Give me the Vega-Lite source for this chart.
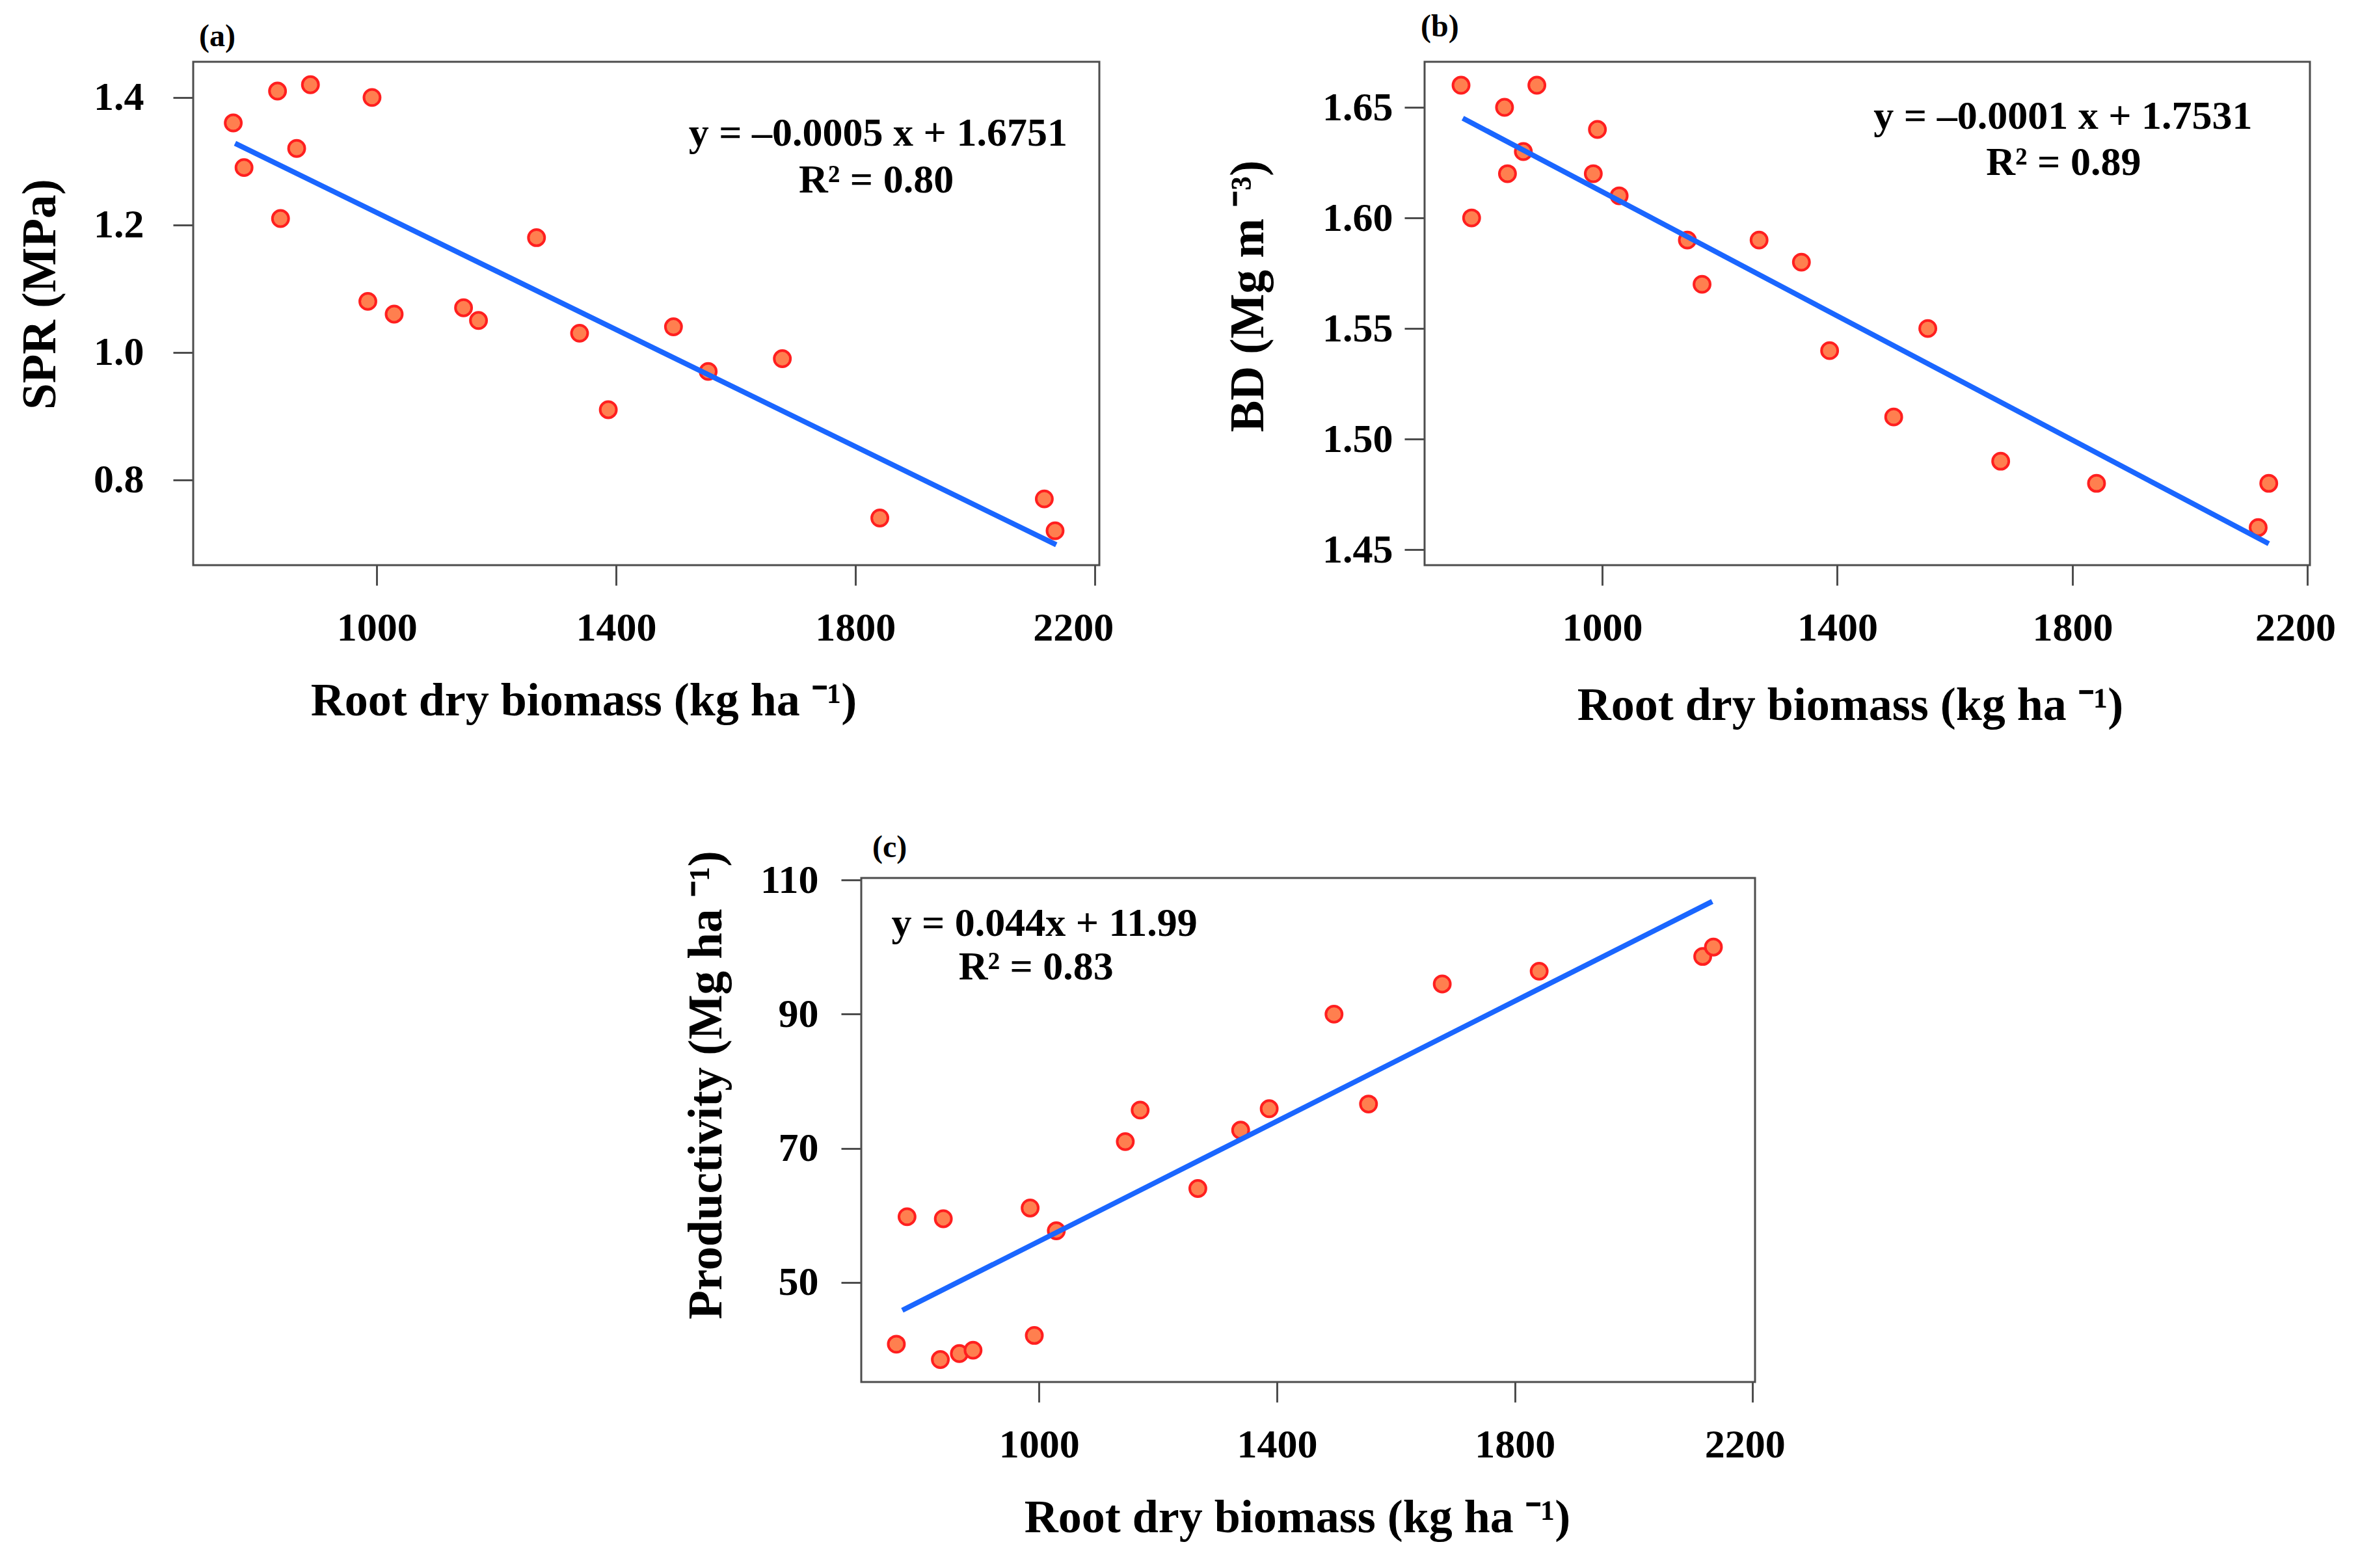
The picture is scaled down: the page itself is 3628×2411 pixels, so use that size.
{
  "$schema": "https://vega.github.io/schema/vega-lite/v6.json",
  "background": "white",
  "padding": {"left": 24, "top": 16, "right": 0, "bottom": 0},
  "datasets": {
    "rdb": [
      {"biomass": 760, "spr": 1.36, "bd": 1.66, "prod": 40.8},
      {"biomass": 778, "spr": 1.29, "bd": 1.60, "prod": 59.8},
      {"biomass": 834, "spr": 1.41, "bd": 1.65, "prod": 38.5},
      {"biomass": 839, "spr": 1.21, "bd": 1.62, "prod": 59.5},
      {"biomass": 866, "spr": 1.32, "bd": 1.63, "prod": 39.4},
      {"biomass": 889, "spr": 1.42, "bd": 1.66, "prod": 39.9},
      {"biomass": 985, "spr": 1.08, "bd": 1.62, "prod": 61.1},
      {"biomass": 992, "spr": 1.40, "bd": 1.64, "prod": 42.1},
      {"biomass": 1029, "spr": 1.06, "bd": 1.61, "prod": 57.7},
      {"biomass": 1145, "spr": 1.07, "bd": 1.59, "prod": 71.0},
      {"biomass": 1170, "spr": 1.05, "bd": 1.57, "prod": 75.7},
      {"biomass": 1267, "spr": 1.18, "bd": 1.59, "prod": 64.0},
      {"biomass": 1339, "spr": 1.03, "bd": 1.58, "prod": 72.7},
      {"biomass": 1387, "spr": 0.91, "bd": 1.54, "prod": 75.9},
      {"biomass": 1496, "spr": 1.04, "bd": 1.51, "prod": 90.0},
      {"biomass": 1554, "spr": 0.97, "bd": 1.55, "prod": 76.6},
      {"biomass": 1678, "spr": 0.99, "bd": 1.49, "prod": 94.5},
      {"biomass": 1841, "spr": 0.74, "bd": 1.48, "prod": 96.4},
      {"biomass": 2116, "spr": 0.77, "bd": 1.46, "prod": 98.6},
      {"biomass": 2134, "spr": 0.72, "bd": 1.48, "prod": 100.0}
    ]
  },
  "spacing": 156,
  "vconcat": [
    {
      "hconcat": [
        {
          "title": {"text": "(a)", "dx": 9, "offset": 14},
          "width": 1393,
          "height": 774,
          "encoding": {
            "x": {
              "field": "biomass", "type": "quantitative",
              "scale": {"domain": [693, 2208], "nice": false, "zero": false},
              "axis": {"values": [1000, 1400, 1800, 2200], "format": "d", "title": "Root dry biomass (kg ha ⁻¹)", "titleX": 600, "titleY": 230, "labelFlush": 20, "labelFlushOffset": 29}
            },
            "y": {
              "field": "spr", "type": "quantitative",
              "scale": {"domain": [0.666, 1.456], "nice": false, "zero": false},
              "axis": {"values": [0.8, 1.0, 1.2, 1.4], "format": ".1f", "title": "SPR (MPa)", "titleX": -213, "titleY": 357, "labelPadding": 45}
            }
          },
          "layer": [
            {
              "data": {"name": "rdb"},
              "mark": {"type": "circle", "size": 620, "fill": "#ff7f4f", "stroke": "#ff1f1f", "strokeWidth": 4, "opacity": 1}
            },
            {
              "data": {"values": [{"biomass": 763, "spr": 1.328}, {"biomass": 2136, "spr": 0.698}]},
              "mark": {"type": "line", "color": "#1a66ff", "strokeWidth": 8}
            },
            {
              "data": {"values": [
                {"biomass": 1838, "spr": 1.3435, "label": "y = –0.0005 x + 1.6751"},
                {"biomass": 1835, "spr": 1.270, "label": "R² = 0.80"}
              ]},
              "mark": {"type": "text", "fontSize": 62, "fontWeight": "bold", "font": "Liberation Serif", "baseline": "middle", "align": "center", "color": "#000"},
              "encoding": {"text": {"field": "label"}}
            }
          ]
        },
        {
          "title": {"text": "(b)", "dx": -6, "offset": 29},
          "width": 1361,
          "height": 774,
          "encoding": {
            "x": {
              "field": "biomass", "type": "quantitative",
              "scale": {"domain": [698, 2204], "nice": false, "zero": false},
              "axis": {"values": [1000, 1400, 1800, 2200], "format": "d", "title": "Root dry biomass (kg ha ⁻¹)", "titleX": 654, "titleY": 237, "labelFlush": 20, "labelFlushOffset": 43}
            },
            "y": {
              "field": "bd", "type": "quantitative",
              "scale": {"domain": [1.443, 1.6706], "nice": false, "zero": false},
              "axis": {"values": [1.45, 1.5, 1.55, 1.6, 1.65], "format": ".2f", "title": "BD (Mg m  ⁻³)", "titleX": -249, "titleY": 360, "labelPadding": 18}
            }
          },
          "layer": [
            {
              "data": {"name": "rdb"},
              "mark": {"type": "circle", "size": 620, "fill": "#ff7f4f", "stroke": "#ff1f1f", "strokeWidth": 4, "opacity": 1}
            },
            {
              "data": {"values": [{"biomass": 763, "bd": 1.6451}, {"biomass": 2134, "bd": 1.4527}]},
              "mark": {"type": "line", "color": "#1a66ff", "strokeWidth": 8}
            },
            {
              "data": {"values": [
                {"biomass": 1784, "bd": 1.6458, "label": "y = –0.0001 x + 1.7531"},
                {"biomass": 1785, "bd": 1.6249, "label": "R² = 0.89"}
              ]},
              "mark": {"type": "text", "fontSize": 62, "fontWeight": "bold", "font": "Liberation Serif", "baseline": "middle", "align": "center", "color": "#000"},
              "encoding": {"text": {"field": "label"}}
            }
          ]
        }
      ],
      "spacing": 500,
      "bounds": "flush"
    },
    {
      "hconcat": [
        {
          "width": 1,
          "height": 1,
          "view": {"stroke": null},
          "data": {"values": [{}]},
          "mark": {"type": "point", "opacity": 0}
        },
        {
          "title": {"text": "(c)", "dx": 17, "offset": -20},
          "width": 1374,
          "height": 775,
          "encoding": {
            "x": {
              "field": "biomass", "type": "quantitative",
              "scale": {"domain": [701, 2204], "nice": false, "zero": false},
              "axis": {"values": [1000, 1400, 1800, 2200], "format": "d", "title": "Root dry biomass (kg ha ⁻¹)", "titleX": 670, "titleY": 230, "labelFlush": 20, "labelFlushOffset": 50}
            },
            "y": {
              "field": "prod", "type": "quantitative",
              "scale": {"domain": [35.16, 110.3], "nice": false, "zero": false},
              "axis": {"values": [50, 70, 90, 110], "title": "Productivity (Mg ha ⁻¹)", "titleX": -216, "titleY": 318, "labelPadding": 35}
            }
          },
          "layer": [
            {
              "data": {"name": "rdb"},
              "mark": {"type": "circle", "size": 620, "fill": "#ff7f4f", "stroke": "#ff1f1f", "strokeWidth": 4, "opacity": 1}
            },
            {
              "data": {"values": [{"biomass": 770, "prod": 45.85}, {"biomass": 2132, "prod": 106.8}]},
              "mark": {"type": "line", "color": "#1a66ff", "strokeWidth": 8}
            },
            {
              "data": {"values": [
                {"biomass": 1009, "prod": 103.5, "label": "y = 0.044x + 11.99"},
                {"biomass": 995, "prod": 97.0, "label": "R² = 0.83"}
              ]},
              "mark": {"type": "text", "fontSize": 62, "fontWeight": "bold", "font": "Liberation Serif", "baseline": "middle", "align": "center", "color": "#000"},
              "encoding": {"text": {"field": "label"}}
            }
          ]
        }
      ],
      "spacing": 1026,
      "bounds": "flush"
    }
  ],
  "config": {
    "font": "Liberation Serif",
    "view": {"stroke": "#4d4d4d", "strokeWidth": 3},
    "title": {"anchor": "start", "frame": "group", "font": "Liberation Serif", "fontWeight": "bold", "fontSize": 48, "color": "#000", "baseline": "alphabetic"},
    "axis": {
      "grid": false,
      "domain": false,
      "ticks": true,
      "tickColor": "#4d4d4d",
      "tickWidth": 3,
      "tickSize": 31,
      "labelFont": "Liberation Serif",
      "labelFontWeight": "bold",
      "labelFontSize": 62,
      "labelColor": "#000",
      "titleFont": "Liberation Serif",
      "titleFontWeight": "bold",
      "titleColor": "#000",
      "titleBaseline": "alphabetic"
    },
    "axisX": {"labelPadding": 35, "titleFontSize": 72},
    "axisY": {"titleFontSize": 73}
  }
}
